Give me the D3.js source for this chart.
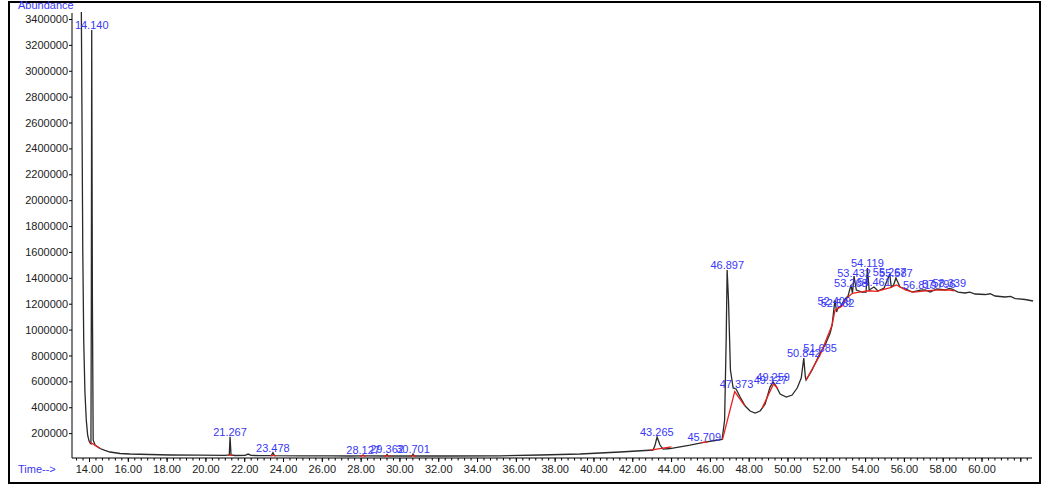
<!DOCTYPE html>
<html>
<head>
<meta charset="utf-8">
<script src="https://cdn.jsdelivr.net/npm/d3@7"></script>
<style>
  body { margin: 0; background: #fff; }
  text { font-family: "Liberation Sans", Arial, sans-serif; }
  .tick text { font-size: 11px; fill: #222; }
  .peak { font-size: 11px; fill: #3838f5; text-anchor: middle; }
  .lab { font-size: 11px; fill: #3838f5; }
</style>
</head>
<body>
<div id="chart"></div>
<script>
const width = 1043
const height = 486

// señal (tiempo en min, abundancia)
const signalTime = [13.60, 13.64, 13.68, 13.73, 13.79, 13.86, 13.93, 14.00, 14.05, 14.10, 14.12, 14.14, 14.175, 14.215, 14.31, 14.57, 14.82, 15.08, 15.60, 16.11, 17.14, 18.18, 19.72, 21.01, 21.23, 21.27, 21.32, 21.53, 22.05, 22.20, 22.35, 22.81, 23.40, 23.48, 23.56, 24.88, 26.5, 27.45, 28.05, 28.13, 28.20, 29.30, 29.36, 29.42, 30.64, 30.70, 30.76, 32.6, 35.19, 37.25, 39.31, 41.37, 42.66, 43.07, 43.16, 43.28, 43.43, 43.59, 43.95, 44.98, 45.75, 46.27, 46.63, 46.76, 46.84, 46.89, 46.96, 47.06, 47.20, 47.35, 47.56, 47.82, 48.07, 48.33, 48.59, 48.85, 49.10, 49.26, 49.41, 49.62, 49.94, 50.24, 50.50, 50.71, 50.84, 50.92, 50.96, 51.27, 51.68, 51.94, 52.20, 52.30, 52.41, 52.45, 52.53, 52.60, 52.76, 52.92, 53.12, 53.27, 53.35, 53.43, 53.55, 53.84, 54.05, 54.12, 54.21, 54.46, 54.67, 54.98, 55.27, 55.35, 55.47, 55.59, 55.80, 56.11, 56.42, 56.84, 57.09, 57.35, 57.71, 58.12, 58.34, 58.48, 58.79, 59.15, 59.40, 59.67, 60.19, 60.45, 60.70, 61.22, 61.50, 61.74, 62.25, 62.66]
const signalAbund = [3600000, 2600000, 1600000, 900000, 520000, 300000, 185000, 140000, 125000, 118000, 1200000, 3315000, 1230000, 147000, 108000, 81000, 66000, 54000, 42500, 38600, 34800, 31000, 29400, 28600, 31000, 172000, 31000, 27000, 27500, 38000, 27500, 26500, 26000, 48700, 26000, 24700, 23500, 23200, 23500, 31000, 23500, 23200, 34800, 23200, 23200, 38600, 23200, 23200, 24700, 31000, 38600, 54000, 65700, 69500, 100000, 170000, 108000, 77000, 81000, 108000, 131000, 143000, 150700, 301000, 919500, 1460000, 1228600, 687700, 548600, 541000, 479000, 409500, 371000, 355400, 371000, 425000, 556000, 595000, 564000, 502000, 479000, 494500, 548600, 626000, 780400, 633600, 610000, 687700, 819000, 880900, 973600, 1035000, 1182000, 1228600, 1136000, 1167000, 1182000, 1228600, 1259000, 1344000, 1282700, 1414000, 1305900, 1290000, 1290000, 1476000, 1305900, 1329000, 1298000, 1321000, 1429500, 1329000, 1344000, 1398600, 1329000, 1313600, 1290000, 1305000, 1305900, 1290000, 1313600, 1306000, 1318000, 1313600, 1290000, 1282700, 1290000, 1275000, 1271000, 1277000, 1259500, 1251800, 1257000, 1240000, 1232500, 1221000]

// lineas base de integracion (rojo)
const baselines = [
  [[14.02, 133000], [14.57, 82000]],
  [[21.18, 29500], [21.40, 29000]],
  [[23.35, 26000], [23.65, 26000]],
  [[27.95, 23300], [28.30, 23300]],
  [[29.20, 23200], [29.55, 23200]],
  [[30.55, 23300], [30.85, 23300]],
  [[42.92, 69000], [44.02, 93000]],
  [[45.55, 127000], [45.90, 133000]],
  [[46.65, 150000], [47.28, 521000], [47.80, 410000]],
  [[48.70, 395000], [49.28, 580000], [49.50, 545000]],
  [[50.96, 610000], [51.70, 810000], [52.30, 1035000], [52.45, 1150000], [52.80, 1180000], [53.10, 1250000], [53.35, 1280000], [53.70, 1290000], [54.20, 1300000], [54.60, 1295000], [55.30, 1325000], [55.62, 1345000], [56.10, 1305000], [56.50, 1290000], [57.00, 1298000], [57.60, 1305000], [58.30, 1307000], [58.60, 1300000]]
]

// etiquetas de picos
const peakTimes = [14.140, 21.267, 23.478, 28.127, 29.362, 30.701, 43.265, 45.709, 46.897, 47.373, 49.127, 49.259, 50.842, 51.685, 52.409, 52.582, 53.268, 53.432, 54.119, 54.461, 55.267, 55.587, 56.819, 57.796, 58.339]
const peakHeights = [3315000, 172000, 48700, 31000, 34800, 38600, 170000, 131000, 1460000, 541000, 572000, 595000, 780400, 819000, 1182000, 1167000, 1320000, 1400000, 1476000, 1329000, 1405000, 1398600, 1305000, 1313600, 1318000]

const yTicks = d3.range(200000, 3400001, 200000)
const xMajor = d3.range(14, 62.1, 2)
const xLabels = d3.range(14, 60.1, 2)
const xMinor = d3.range(-2, 146).map(i => 14 + i / 3)

const svg = d3.select("div#chart")
    .append("svg")
    .attr("width", width)
    .attr("height", height)

// marco
svg.append("rect")
  .attr("x", 9).attr("y", 2)
  .attr("width", 1031).attr("height", 481)
  .attr("fill", "none").attr("stroke", "#000").attr("stroke-width", 2)

// Escalas
const x = d3.scaleLinear().domain([14, 60]).range([89, 981.5])
const y = d3.scaleLinear().domain([0, 3400000]).range([459, 19])

const axisY = 458

svg.append("clipPath").attr("id", "plot")
  .append("rect").attr("x", 73).attr("y", 12).attr("width", 962).attr("height", axisY - 12)

const elementGroup = svg.append("g").attr("clip-path", "url(#plot)")

const line = d3.line().x(d => x(d[0])).y(d => y(d[1]))

elementGroup.append("path")
  .datum(signalTime.map((t, i) => [t, signalAbund[i]]))
  .attr("d", line)
  .attr("fill", "none")
  .attr("stroke", "#2a2a2a")
  .attr("stroke-width", 1.3)

elementGroup.selectAll("path.base").data(baselines)
  .join("path")
  .attr("class", "base")
  .attr("d", line)
  .attr("fill", "none")
  .attr("stroke", "#e8201c")
  .attr("stroke-width", 1.3)

// Ejes
const yAxisGroup = svg.append("g").attr("transform", "translate(72, 0)")
yAxisGroup.call(d3.axisLeft(y).tickValues(yTicks).tickSize(3).tickPadding(1).tickFormat(d3.format("d")))
yAxisGroup.select(".domain").remove()
yAxisGroup.append("line").attr("y1", 13).attr("y2", axisY).attr("stroke", "#000")

const xAxisGroup = svg.append("g").attr("transform", `translate(0, ${axisY})`)
xAxisGroup.call(d3.axisBottom(x).tickValues(xMinor).tickSize(2.5).tickFormat(""))
xAxisGroup.select(".domain").remove()
const xMajorGroup = svg.append("g").attr("transform", `translate(0, ${axisY})`)
xMajorGroup.call(d3.axisBottom(x).tickValues(xMajor).tickSize(4).tickPadding(3)
  .tickFormat(d => xLabels.includes(d) ? d3.format(".2f")(d) : ""))
xMajorGroup.select(".domain").remove()
svg.append("line").attr("x1", 72).attr("x2", 1032).attr("y1", axisY).attr("y2", axisY).attr("stroke", "#000")
svg.selectAll(".tick line").attr("stroke", "#000")

// etiquetas
svg.selectAll("text.peak").data(peakTimes)
  .join("text")
  .attr("class", "peak")
  .attr("x", d => x(d))
  .attr("y", (d, i) => y(peakHeights[i]) - 1)
  .text(d => d3.format(".3f")(d))

svg.append("text").attr("class", "lab").attr("x", 18).attr("y", 9).text("Abundance")
svg.append("text").attr("class", "lab").attr("x", 18).attr("y", 473).text("Time-->")
</script>
</body>
</html>
